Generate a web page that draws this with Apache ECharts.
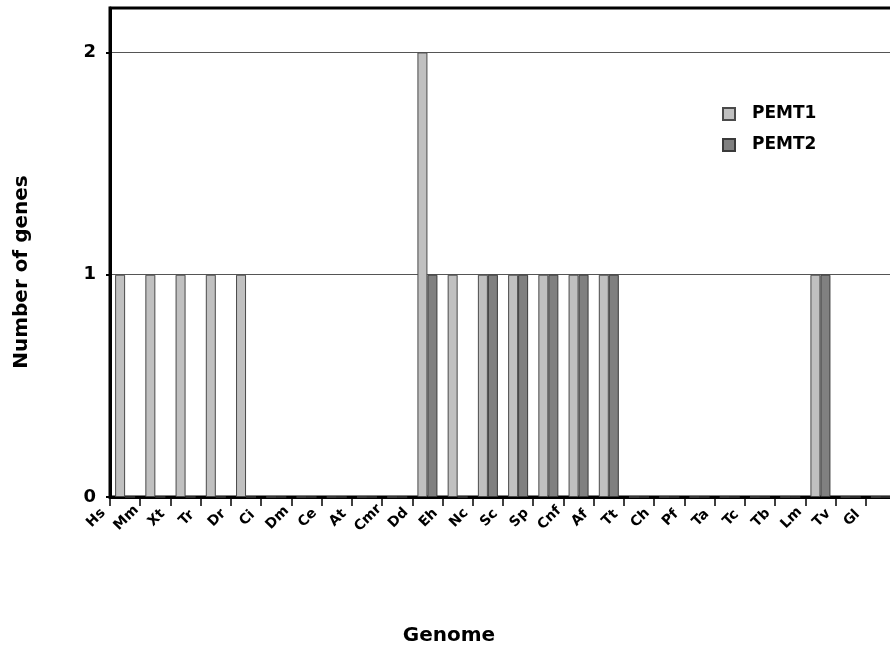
<!DOCTYPE html>
<html>
<head>
<meta charset="utf-8">
<title>PEMT genes per genome</title>
<script src="https://cdn.jsdelivr.net/npm/echarts@6/dist/echarts.min.js"></script>
<style>
  html, body { margin: 0; padding: 0; background: #fff; overflow: hidden; }
  /* the plot frame runs slightly past the right edge of the window */
  #chart { width: 896px; height: 653px; }
</style>
</head>
<body>
<div id="chart"></div>
<script>
// Genome abbreviations along the x axis
const genomes = ['Hs', 'Mm', 'Xt', 'Tr', 'Dr', 'Ci', 'Dm', 'Ce', 'At', 'Cmr', 'Dd', 'Eh', 'Nc',
                 'Sc', 'Sp', 'Cnf', 'Af', 'Tt', 'Ch', 'Pf', 'Ta', 'Tc', 'Tb', 'Lm', 'Tv', 'Gl'];

// Number of genes found in each genome
const pemt1 = [1, 1, 1, 1, 1, 0, 0, 0, 0, 0, 2, 1, 1, 1, 1, 1, 1, 0, 0, 0, 0, 0, 0, 1, 0, 0];
const pemt2 = [0, 0, 0, 0, 0, 0, 0, 0, 0, 0, 1, 0, 1, 1, 1, 1, 1, 0, 0, 0, 0, 0, 0, 1, 0, 0];

// Value axis ticks
const yTicks = [0, 1, 2];

const FONT = 'DejaVu Sans';

const chart = echarts.init(document.getElementById('chart'), null, { renderer: 'canvas' });

chart.setOption({
  backgroundColor: '#ffffff',
  animation: false,
  grid: {
    left: 110,
    top: 8,
    right: 0,
    bottom: 156,
    show: true,
    borderColor: '#000',
    borderWidth: 3,
    backgroundColor: 'transparent'
  },
  legend: {
    orient: 'vertical',
    left: 722,
    top: 104,
    padding: 0,
    icon: 'rect',
    itemWidth: 12,
    itemHeight: 12,
    itemGap: 11,
    textStyle: {
      fontFamily: FONT,
      fontWeight: 'bold',
      fontSize: 17,
      lineHeight: 20,
      color: '#000',
      padding: [0, 0, 0, 12]
    },
    data: ['PEMT1', 'PEMT2']
  },
  xAxis: {
    type: 'category',
    data: genomes,
    axisLine: { lineStyle: { color: '#000', width: 3 } },
    axisTick: { show: true, length: 9, lineStyle: { color: '#000', width: 1.5 } },
    axisLabel: {
      interval: 0,
      rotate: 45,
      align: 'center',
      verticalAlign: 'middle',
      margin: -8,
      padding: [0, 82, 0, 0],
      fontFamily: FONT,
      fontWeight: 'bold',
      fontSize: 14,
      color: '#000'
    },
    splitLine: { show: false }
  },
  yAxis: {
    type: 'value',
    min: 0,
    max: 2.2,
    interval: 1,
    axisLine: { show: true, lineStyle: { color: '#000', width: 3 } },
    axisTick: { show: true, length: 4, customValues: yTicks, lineStyle: { color: '#000', width: 2 } },
    axisLabel: {
      customValues: yTicks,
      margin: 14,
      fontFamily: FONT,
      fontWeight: 'bold',
      fontSize: 18,
      color: '#000'
    },
    splitLine: { show: true, lineStyle: { color: '#555', width: 1 } }
  },
  series: [
    {
      name: 'PEMT1',
      type: 'bar',
      data: pemt1,
      barWidth: 10,
      barGap: '0%',
      itemStyle: { color: '#c0c0c0', borderColor: '#4a4a4a', borderWidth: 1 }
    },
    {
      name: 'PEMT2',
      type: 'bar',
      data: pemt2,
      barWidth: 10,
      barGap: '0%',
      itemStyle: { color: '#808080', borderColor: '#3a3a3a', borderWidth: 1 }
    }
  ],
  graphic: [
    {
      type: 'text',
      x: 22,
      y: 272,
      rotation: Math.PI / 2,
      style: {
        text: 'Number of genes',
        x: 0,
        y: 0,
        align: 'center',
        verticalAlign: 'middle',
        fontFamily: FONT,
        fontWeight: 'bold',
        fontSize: 20,
        fill: '#000'
      }
    },
    {
      type: 'text',
      x: 449,
      y: 636,
      style: {
        text: 'Genome',
        x: 0,
        y: 0,
        align: 'center',
        verticalAlign: 'middle',
        fontFamily: FONT,
        fontWeight: 'bold',
        fontSize: 20,
        fill: '#000'
      }
    }
  ]
});
</script>
</body>
</html>
